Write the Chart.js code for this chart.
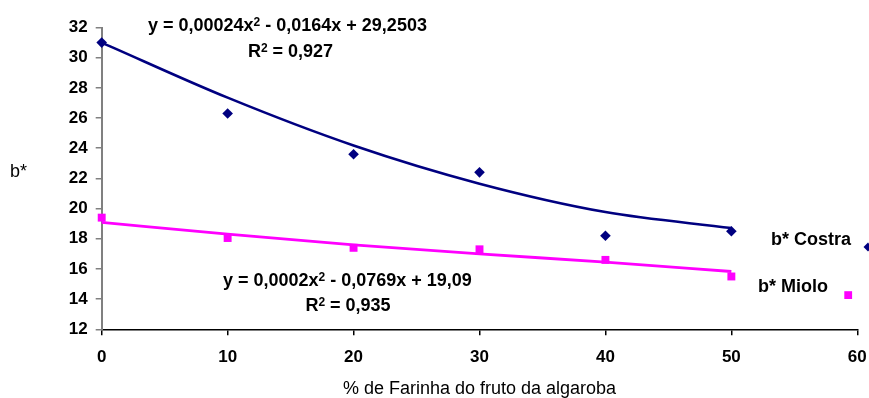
<!DOCTYPE html>
<html>
<head>
<meta charset="utf-8">
<script src="https://cdn.jsdelivr.net/npm/chart.js@4/dist/chart.umd.min.js"></script>
<style>
  html, body { margin: 0; padding: 0; background: #fff; }
  canvas { display: block; }
</style>
</head>
<body>
<canvas id="chart" width="869" height="398"></canvas>
<script>
// % de farinha (eixo x)
const farinha = [0, 10, 20, 30, 40, 50];

// medições de b*
const costra = [31.0, 26.3, 23.6, 22.4, 18.2, 18.5];
const miolo = [19.4, 18.05, 17.4, 17.3, 16.6, 15.5];

// linhas de tendência (polinomial, 2ª ordem) nos mesmos x
const tendCostra = [31.0, 27.35, 24.18, 21.65, 19.77, 18.71];
const tendMiolo = [19.08, 18.31, 17.6, 17.0, 16.45, 15.83];

// textos das equações: [texto, expoente?]
const eqCostra = [["y = 0,00024x", false], ["2", true], [" - 0,0164x + 29,2503", false]];
const r2Costra = [["R", false], ["2", true], [" = 0,927", false]];
const eqMiolo = [["y = 0,0002x", false], ["2", true], [" - 0,0769x + 19,09", false]];
const r2Miolo = [["R", false], ["2", true], [" = 0,935", false]];

const FONT = "'Liberation Sans', Arial, sans-serif";
const NAVY = "#000080";
const MAGENTA = "#ff00ff";

Chart.defaults.font.family = FONT;
Chart.defaults.color = "#000";

function pts(ys) {
    return farinha.map((x, i) => ({x, y: ys[i]}));
}

function eqWidth(ctx, parts) {
    let w = 0;
    for (const [t, sup] of parts) {
        ctx.font = sup ? "bold 12px " + FONT : "bold 18px " + FONT;
        w += ctx.measureText(t).width;
    }
    return w;
}

function drawEq(ctx, x, y, parts, align) {
    if (align === "center") x -= eqWidth(ctx, parts) / 2;
    ctx.textAlign = "left";
    ctx.textBaseline = "alphabetic";
    for (const [t, sup] of parts) {
        ctx.font = sup ? "bold 12px " + FONT : "bold 18px " + FONT;
        ctx.fillText(t, x, sup ? y - 5 : y);
        x += ctx.measureText(t).width;
    }
}

// textos soltos: título do eixo y, equações e legenda
const annotations = {
    id: "annotations",
    afterDraw(chart) {
        const ctx = chart.ctx;
        ctx.save();
        ctx.fillStyle = "#000";

        ctx.font = "18px " + FONT;
        ctx.textAlign = "left";
        ctx.textBaseline = "alphabetic";
        ctx.fillText("b*", 10, 177);

        drawEq(ctx, 148, 31, eqCostra);
        drawEq(ctx, 290.5, 57, r2Costra, "center");
        drawEq(ctx, 223, 286, eqMiolo);
        drawEq(ctx, 348, 311, r2Miolo, "center");

        ctx.font = "bold 18px " + FONT;
        ctx.textAlign = "left";
        ctx.fillText("b* Costra", 771, 245);
        ctx.fillText("b* Miolo", 758, 292);

        // marcadores da legenda
        ctx.fillStyle = NAVY;
        ctx.beginPath();
        ctx.moveTo(868, 242.5);
        ctx.lineTo(872.5, 247);
        ctx.lineTo(868, 251.5);
        ctx.lineTo(863.5, 247);
        ctx.closePath();
        ctx.fill();
        ctx.fillStyle = MAGENTA;
        ctx.fillRect(844.3, 291.2, 7.8, 7.8);

        ctx.restore();
    }
};

new Chart(document.getElementById("chart"), {
    type: "scatter",
    data: {
        datasets: [
            {
                label: "b* Costra",
                data: pts(costra),
                pointStyle: "rectRot",
                pointRadius: 5.3,
                pointHoverRadius: 5.3,
                backgroundColor: NAVY,
                borderColor: NAVY,
                borderWidth: 0,
                clip: false
            },
            {
                label: "b* Miolo",
                data: pts(miolo),
                pointStyle: "rect",
                pointRadius: 5.6,
                pointHoverRadius: 5.6,
                backgroundColor: MAGENTA,
                borderColor: MAGENTA,
                borderWidth: 0,
                clip: false
            },
            {
                label: "Polinômio (b* Costra)",
                data: pts(tendCostra),
                showLine: true,
                pointRadius: 0,
                borderColor: NAVY,
                borderWidth: 2.6,
                cubicInterpolationMode: "monotone",
                clip: false
            },
            {
                label: "Polinômio (b* Miolo)",
                data: pts(tendMiolo),
                showLine: true,
                pointRadius: 0,
                borderColor: MAGENTA,
                borderWidth: 2.8,
                cubicInterpolationMode: "monotone",
                clip: false
            }
        ]
    },
    options: {
        responsive: false,
        animation: false,
        events: [],
        layout: {padding: {top: 27.5, right: 11.7, left: 0, bottom: 0}},
        plugins: {
            legend: {display: false},
            tooltip: {enabled: false}
        },
        scales: {
            x: {
                type: "linear",
                min: 0,
                max: 60,
                ticks: {
                    stepSize: 10,
                    color: "#000",
                    padding: 12,
                    font: {size: 17, weight: "bold"}
                },
                grid: {drawOnChartArea: false, drawTicks: true, tickLength: 6, color: "#000", lineWidth: 1.5},
                border: {color: "#000", width: 1.5},
                title: {
                    display: true,
                    text: "% de Farinha do fruto da algaroba",
                    color: "#000",
                    font: {size: 18},
                    padding: {top: 0, bottom: -2}
                },
                afterFit(scale) {
                    // a área do gráfico vai até o 60, sem folga extra para o rótulo
                    scale.height = 68.7;
                    scale.paddingLeft = 0;
                    scale.paddingRight = 0;
                }
            },
            y: {
                min: 12,
                max: 32,
                ticks: {
                    stepSize: 2,
                    color: "#000",
                    padding: 8,
                    font: {size: 17, weight: "bold"}
                },
                grid: {drawOnChartArea: false, drawTicks: true, tickLength: 6, color: "#808080", lineWidth: 1.5},
                border: {color: "#808080", width: 2},
                afterFit(scale) {
                    scale.width = 101.7;
                }
            }
        }
    },
    plugins: [annotations]
});
</script>
</body>
</html>
